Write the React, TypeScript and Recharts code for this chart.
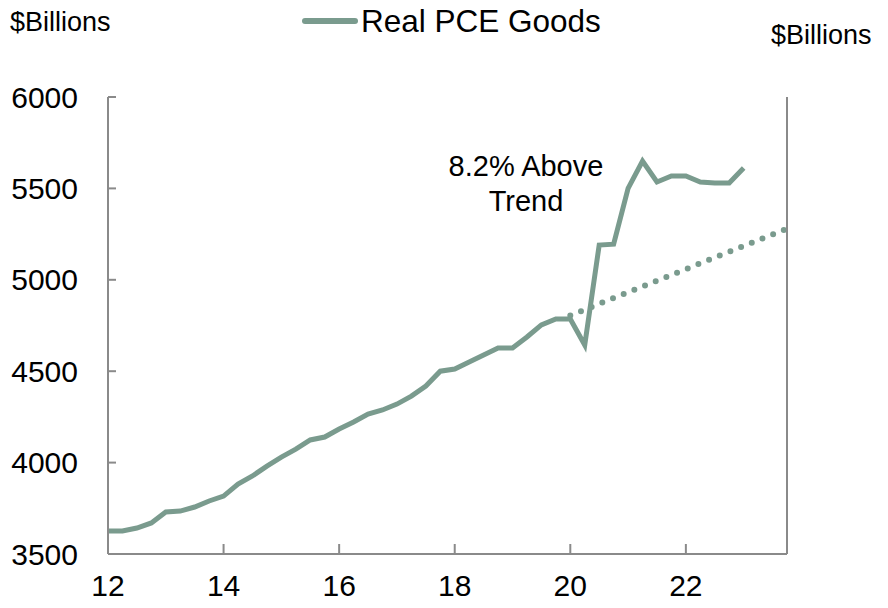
import { LineChart, Line, XAxis, YAxis } from "recharts";

// quarterly, 2012 Q1 .. 2023 Q1
const pceGoods = [
  3626, 3626, 3642, 3670, 3730, 3735, 3757, 3790,
  3817, 3883, 3927, 3981, 4030, 4074, 4124, 4140,
  4184, 4222, 4266, 4288, 4320, 4364, 4419, 4500,
  4512, 4550, 4588, 4627, 4627, 4687, 4753, 4786,
  4786, 4643, 5190, 5195, 5500, 5650, 5535, 5568,
  5568, 5535, 5530, 5530, 5612,
];
const startYear = 12;

// pre-pandemic trend, start and end of the dotted line
const trendYears = [20, 23.75];
const trendValues = [4805, 5280];

const xTicks = [12, 14, 16, 18, 20, 22];
const yTicks = [3500, 4000, 4500, 5000, 5500, 6000];

const green = "#7a9b8e";
const axisGrey = "#8a8a8a";
const font = "'Liberation Sans', Arial, sans-serif";

const series = pceGoods.map((v, i) => ({ x: startYear + i / 4, v }));
const trend = trendYears.map((x, i) => ({ x, t: trendValues[i] }));

const tickStyle = { fontSize: 30, fill: "#000", fontFamily: font };

export default function App() {
  return (
    <div style={{ position: "relative", width: 888, height: 608, fontFamily: font, background: "#fff" }}>
      <style>{`body{margin:0}`}</style>
      <div style={{ position: "absolute", left: 10, top: 6, fontSize: 27, lineHeight: "32px" }}>$Billions</div>
      <div style={{ position: "absolute", left: 771, top: 19, fontSize: 27, lineHeight: "32px" }}>$Billions</div>
      <div style={{ position: "absolute", left: 302, top: 3, display: "flex", alignItems: "center" }}>
        <span style={{ width: 56, height: 6, borderRadius: 3, background: green, display: "inline-block" }} />
        <span style={{ fontSize: 31.5, lineHeight: "36px", marginLeft: 3 }}>Real PCE Goods</span>
      </div>
      <div
        style={{
          position: "absolute",
          left: 426,
          top: 149,
          width: 200,
          textAlign: "center",
          fontSize: 29,
          lineHeight: "35px",
        }}
      >
        8.2% Above
        <br />
        Trend
      </div>
      <LineChart width={888} height={608} margin={{ top: 97, right: 3, bottom: 0, left: 10 }}>
        <XAxis
          type="number"
          dataKey="x"
          domain={[12, 23.75]}
          ticks={xTicks}
          height={54}
          tickSize={-10}
          tickMargin={31}
          stroke={axisGrey}
          strokeWidth={2}
          tick={tickStyle}
          allowDataOverflow
        />
        <YAxis
          yAxisId="l"
          domain={[3500, 6000]}
          ticks={yTicks}
          width={98}
          tickSize={-8}
          tickMargin={38}
          stroke={axisGrey}
          strokeWidth={2}
          tick={tickStyle}
        />
        <YAxis
          yAxisId="r"
          orientation="right"
          domain={[3500, 6000]}
          ticks={yTicks}
          width={98}
          tickSize={-8}
          tickMargin={36}
          stroke={axisGrey}
          strokeWidth={2}
          tick={tickStyle}
        />
        <Line
          yAxisId="l"
          data={trend}
          dataKey="t"
          stroke={green}
          strokeWidth={6}
          strokeDasharray="0 11.5"
          strokeLinecap="round"
          dot={false}
          isAnimationActive={false}
        />
        <Line
          yAxisId="l"
          data={series}
          dataKey="v"
          type="linear"
          stroke={green}
          strokeWidth={5}
          dot={false}
          isAnimationActive={false}
        />
      </LineChart>
    </div>
  );
}
